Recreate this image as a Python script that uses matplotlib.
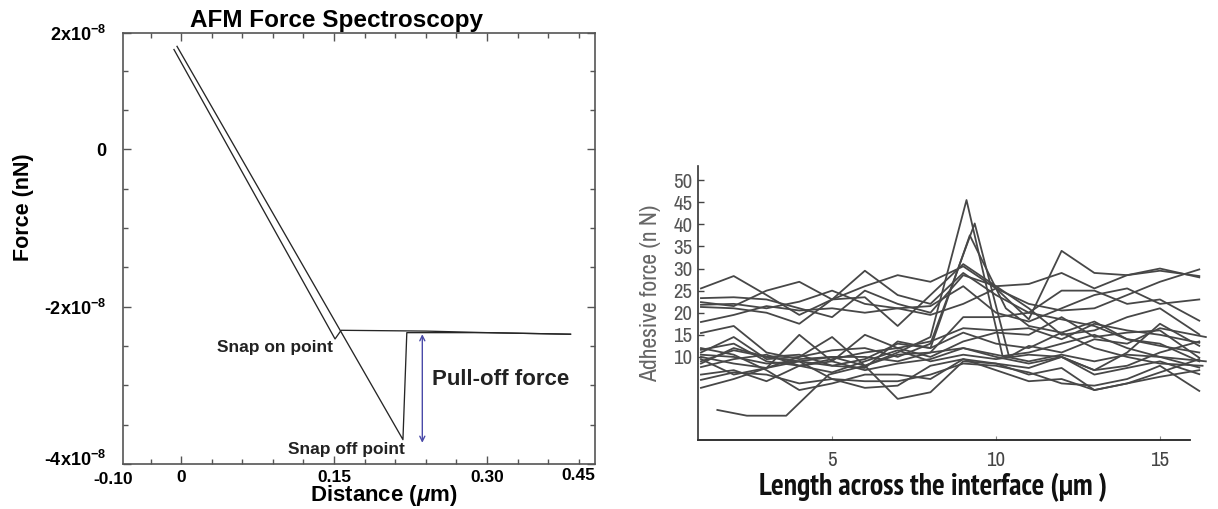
import os
import matplotlib
matplotlib.use("Agg")
import matplotlib.pyplot as plt
from matplotlib import font_manager as fm
from matplotlib.ticker import FixedLocator, MultipleLocator
import matplotlib.transforms as mtransforms

plt.rcParams['font.family'] = ['Liberation Sans', 'DejaVu Sans']
plt.rcParams['mathtext.fontset'] = 'custom'
plt.rcParams['mathtext.rm'] = 'Liberation Sans:bold'
plt.rcParams['mathtext.it'] = 'Liberation Sans:italic:bold'
plt.rcParams['mathtext.default'] = 'regular'

# ---------------- Left panel data (AFM force curve) ----------------
approach_x = [0.382, 0.30, 0.24, 0.157, 0.151, -0.007]
approach_y = [-2.35e-8, -2.33e-8, -2.31e-8, -2.30e-8, -2.41e-8, 1.27e-8]
retract_x = [-0.004, 0.2176, 0.2214, 0.30, 0.382]
retract_y = [1.31e-8, -3.69e-8, -2.33e-8, -2.33e-8, -2.35e-8]
pulloff_x = 0.2366
pulloff_top = -2.35e-8
pulloff_bottom = -3.73e-8

left_yticks = [-4e-8, -2e-8, 0, 1.48e-8]
left_yticklabels = [r'-4x10$^{-8}$', r'-2x10$^{-8}$', '0', r'2x10$^{-8}$']
left_xticks = [0, 0.15, 0.30]
left_xticklabels = ['0', '0.15', '0.30']

# ---------------- Right panel data (adhesive force profiles) ----------------
X_COMMON = [1, 2, 3, 4, 5, 6, 7, 8, 9, 10, 11, 12, 13, 14, 15, 16.2]
S01 = [25.5, 28.3, 24.0, 19.5, 23.0, 26.0, 28.5, 27.0, 30.5, 25.5, 22.0, 20.5, 21.0, 24.0, 27.0, 29.8]
S02 = [23.3, 23.5, 23.0, 21.0, 19.0, 25.0, 22.0, 20.0, 28.5, 26.0, 26.5, 29.0, 25.5, 28.5, 29.5, 28.3]
S03 = [22.4, 21.5, 25.0, 27.0, 23.0, 29.5, 24.0, 22.0, 29.0, 24.0, 20.0, 25.0, 25.0, 22.0, 23.0, 18.2]
S04 = [21.8, 22.0, 21.0, 22.5, 25.0, 22.0, 21.0, 21.5, 26.0, 20.0, 18.0, 21.0, 24.0, 25.5, 22.0, 23.0]
S05 = [21.3, 21.0, 20.0, 17.5, 23.0, 23.5, 17.0, 24.0, 31.0, 26.0, 21.0, 15.0, 16.0, 19.0, 21.0, 15.1]
S06 = [17.9, 19.5, 21.5, 20.5, 21.0, 20.0, 21.0, 19.5, 22.0, 25.5, 18.5, 34.0, 29.0, 28.5, 30.0, 28.0]
S09 = [11.6, 13.0, 9.0, 8.0, 9.5, 11.0, 12.0, 13.5, 16.5, 16.0, 16.5, 14.0, 17.5, 16.0, 15.0, 13.2]
S10 = [10.5, 10.0, 8.5, 9.0, 10.0, 10.0, 9.0, 11.0, 19.0, 19.0, 20.0, 18.5, 17.0, 14.0, 12.5, 11.0]
S11 = [10.0, 8.5, 7.5, 15.0, 9.0, 15.0, 12.0, 10.0, 13.5, 15.5, 15.0, 19.0, 14.5, 15.5, 16.0, 9.8]
S12 = [9.0, 11.5, 10.0, 10.5, 8.0, 7.5, 13.5, 12.0, 15.5, 13.0, 12.0, 15.5, 18.0, 14.0, 13.0, 9.0]
S13 = [7.7, 9.5, 10.5, 8.0, 9.0, 7.0, 8.5, 9.5, 12.0, 10.5, 9.0, 10.5, 9.0, 10.5, 10.0, 7.6]
S14 = [6.0, 7.0, 4.5, 8.0, 6.5, 9.0, 11.5, 9.0, 10.5, 9.5, 10.5, 10.0, 7.0, 11.0, 17.5, 12.5]
S15 = [4.8, 6.5, 6.0, 4.0, 5.0, 3.0, 3.5, 8.0, 9.5, 8.5, 7.5, 10.0, 6.0, 7.5, 9.0, 6.1]
S16 = [3.0, 5.0, 7.5, 9.0, 5.0, 4.5, 4.5, 6.0, 8.5, 8.0, 6.5, 4.0, 3.5, 5.0, 8.0, 2.3]
S17 = [12.0, 10.5, 7.0, 2.5, 4.0, 6.0, 6.0, 5.0, 9.5, 7.0, 4.5, 5.0, 2.5, 4.0, 5.5, 7.0]
S19 = [9.5, 6.0, 7.5, 10.0, 14.5, 8.0, 0.5, 2.0, 9.0, 8.5, 6.0, 7.5, 2.5, 4.0, 6.5, 9.5]

K1_X = [1, 2, 3, 4, 5, 6, 7, 8, 9.1, 10.2, 11, 12, 13, 14, 15, 16.4]
K1_Y = [15.4, 17.0, 11.0, 9.5, 10.0, 8.0, 11.0, 14.5, 45.5, 10.2, 11.0, 13.0, 15.0, 12.0, 10.0, 9.0]
K2_X = [1, 2, 3, 4, 5, 6, 7, 8, 9.35, 10.4, 11, 12, 13, 14, 15, 16.4]
K2_Y = [11.0, 14.5, 9.5, 10.0, 11.5, 12.0, 10.0, 13.0, 40.2, 10.0, 12.5, 11.0, 14.0, 13.0, 16.5, 14.5]
K3_X = [1, 2, 3, 4, 5, 6, 7, 8, 9.2, 10.3, 11, 12, 13, 14, 15, 16.3]
K3_Y = [8.5, 12.0, 10.0, 9.0, 8.0, 9.5, 13.0, 12.0, 37.5, 21.0, 17.0, 15.5, 12.0, 10.0, 8.5, 8.0]
LOW_X = [1.5, 2.4, 3.6, 4.9, 6.0, 7, 8, 9, 10, 11, 12, 13, 14, 15, 16.2]
LOW_Y = [-2.0, -3.3, -3.3, 6.0, 8.0, 10.5, 11.0, 12.0, 10.0, 8.5, 10.0, 7.0, 8.0, 11.0, 13.5]

common_series = [S01, S02, S03, S04, S05, S06, S09, S10, S11, S12, S13, S14, S15, S16, S17, S19]
special_series = [(K1_X, K1_Y), (K2_X, K2_Y), (K3_X, K3_Y), (LOW_X, LOW_Y)]

right_yticks = [10, 15, 20, 25, 30, 35, 40, 45, 50]
right_xticks = [5, 10, 15]


# ---------------- condensed font lookup ----------------
def _weight_num(w):
    if isinstance(w, (int, float)):
        return int(w)
    table = {'normal': 400, 'regular': 400, 'book': 400, 'medium': 500, 'semibold': 600,
             'demibold': 600, 'bold': 700, 'heavy': 800, 'black': 900, 'light': 300}
    return table.get(str(w).lower(), 400)


def find_condensed(bold):
    best = None
    for f in fm.fontManager.ttflist:
        nm = f.name.lower()
        fn = os.path.basename(f.fname).lower()
        if f.style != 'normal' or 'italic' in fn or 'mono' in nm or 'serif' in nm and 'sans' not in nm:
            continue
        tag = nm + ' ' + fn
        if 'narrow' in tag:
            rank = 0
        elif 'semicondensed' in fn or 'semi condensed' in nm:
            rank = 3
        elif 'extracondensed' in fn or 'extra condensed' in nm or 'ultra' in tag:
            rank = 2
        elif 'condensed' in tag:
            rank = 1
        else:
            continue
        w = _weight_num(f.weight)
        if bold:
            if w < 600 or w > 800:
                continue
            rank += abs(w - 700) / 1000.0
        else:
            if w < 350 or w > 500:
                continue
            rank += abs(w - 400) / 1000.0
        if best is None or rank < best[0]:
            best = (rank, f.fname)
    return best[1] if best else None


cond_regular = find_condensed(False)
cond_bold = find_condensed(True)


def cprops(size, bold=False):
    path = cond_bold if bold else cond_regular
    if path:
        return fm.FontProperties(fname=path, size=size)
    return fm.FontProperties(family=['Liberation Sans', 'DejaVu Sans'],
                             weight='bold' if bold else 'normal', size=size * 0.88)


# ---------------- Figure ----------------
W, H = 1218, 509
fig = plt.figure(figsize=(W / 100, H / 100), dpi=100)
fig.patch.set_facecolor('white')

# Left axes
axL = fig.add_axes([123 / W, 1 - 464 / H, (595 - 123) / W, (464 - 33) / H])
axL.plot(approach_x, approach_y, color='#262626', lw=0.95)
axL.plot(retract_x, retract_y, color='#262626', lw=0.95)
axL.annotate('', xy=(pulloff_x, pulloff_bottom), xytext=(pulloff_x, pulloff_top),
             arrowprops=dict(arrowstyle='<->', color='#4a4aa8', lw=1.0,
                             shrinkA=0, shrinkB=0, mutation_scale=9))
axL.set_xlim(-0.057, 0.406)
axL.set_ylim(-4e-8, 1.48e-8)
axL.yaxis.set_major_locator(FixedLocator(left_yticks))
axL.set_yticklabels(left_yticklabels)
axL.yaxis.set_minor_locator(MultipleLocator(0.5e-8))
axL.xaxis.set_major_locator(FixedLocator(left_xticks))
axL.set_xticklabels(left_xticklabels)
axL.xaxis.set_minor_locator(MultipleLocator(0.03))
axL.tick_params(which='both', direction='in', top=True, right=True, color='#555555', width=1.0)
axL.tick_params(which='major', length=6, labelsize=12.5, pad=4)
axL.tick_params(which='minor', length=3.5)
axL.tick_params(axis='y', which='major', pad=12, labelsize=13)
for lab in axL.get_xticklabels() + axL.get_yticklabels():
    lab.set_fontweight('bold')
for sp in axL.spines.values():
    sp.set_color('#555555')
    sp.set_linewidth(1.2)

# nudge the bottom y label up a little (as in the reference)
bottom_lab = axL.yaxis.get_majorticklabels()[0]
bottom_lab.set_transform(bottom_lab.get_transform() +
                         mtransforms.ScaledTranslation(0, 4 / 72, fig.dpi_scale_trans))

trans_xd = mtransforms.blended_transform_factory(axL.transData, axL.transAxes)
axL.text(-0.067, -0.019, '-0.10', transform=trans_xd, ha='center', va='top',
         fontsize=12.5, fontweight='bold', clip_on=False)
axL.text(0.39, -0.010, '0.45', transform=trans_xd, ha='center', va='top',
         fontsize=12.5, fontweight='bold', clip_on=False)

axL.text(0.0923, -2.52e-8, 'Snap on point', ha='center', va='center', fontsize=12.5, fontweight='bold',
         color='#222222')
axL.text(0.1625, -3.82e-8, 'Snap off point', ha='center', va='center', fontsize=12.5, fontweight='bold',
         color='#222222')
axL.text(0.246, -2.92e-8, 'Pull-off force', ha='left', va='center', fontsize=16, fontweight='bold',
         color='#222222')

fig.text(336 / W, 1 - 20 / H, 'AFM Force Spectroscopy', ha='center', va='center',
         fontsize=17.5, fontweight='bold')
fig.text(23 / W, 1 - 207 / H, 'Force (nN)', ha='center', va='center', rotation=90,
         fontsize=15.5, fontweight='bold')
fig.text(384 / W, 1 - 496 / H, r'Distance ($\mathit{\mu}$m)', ha='center', va='center',
         fontsize=16, fontweight='bold')

# Right axes
axR = fig.add_axes([698 / W, 1 - 440 / H, (1216 - 698) / W, (440 - 166) / H])
line_color = '#474747'
for ys in common_series:
    axR.plot(X_COMMON, ys, color=line_color, lw=1.3, clip_on=False)
for xs, ys in special_series:
    axR.plot(xs, ys, color=line_color, lw=1.3, clip_on=False)
axR.set_xlim(0.91, 16.71)
axR.set_ylim(-8.8, 53.2)
for s in ['top', 'right', 'bottom']:
    axR.spines[s].set_visible(False)
axR.spines['left'].set_color('#333333')
axR.spines['left'].set_linewidth(1.2)
axR.axhline(-8.8, xmin=0, xmax=(15.91 - 0.91) / (16.71 - 0.91), color='#222222', lw=1.3,
            clip_on=False)
axR.set_yticks(right_yticks)
axR.set_yticklabels([str(v) for v in right_yticks])
axR.set_xticks(right_xticks)
axR.set_xticklabels([str(v) for v in right_xticks])
axR.tick_params(axis='y', direction='in', length=4, width=1, color='#444444', pad=4,
                labelcolor='#555555')
axR.tick_params(axis='x', direction='in', length=3, width=0.8, color='#888888', pad=8,
                labelcolor='#444444')
for lab in axR.get_yticklabels():
    lab.set_fontproperties(cprops(15))
for lab in axR.get_xticklabels():
    lab.set_fontproperties(cprops(15))

fig.text(651 / W, 1 - 293 / H, 'Adhesive force (n N)', ha='center', va='center', rotation=90,
         color='#666666', fontproperties=cprops(17))
fig.text(933 / W, 1 - 487 / H, 'Length across the interface (\u00b5m )', ha='center', va='center',
         color='#111111', fontproperties=cprops(21.5, bold=True))

fig.savefig('out.png', dpi=100, facecolor='white')
